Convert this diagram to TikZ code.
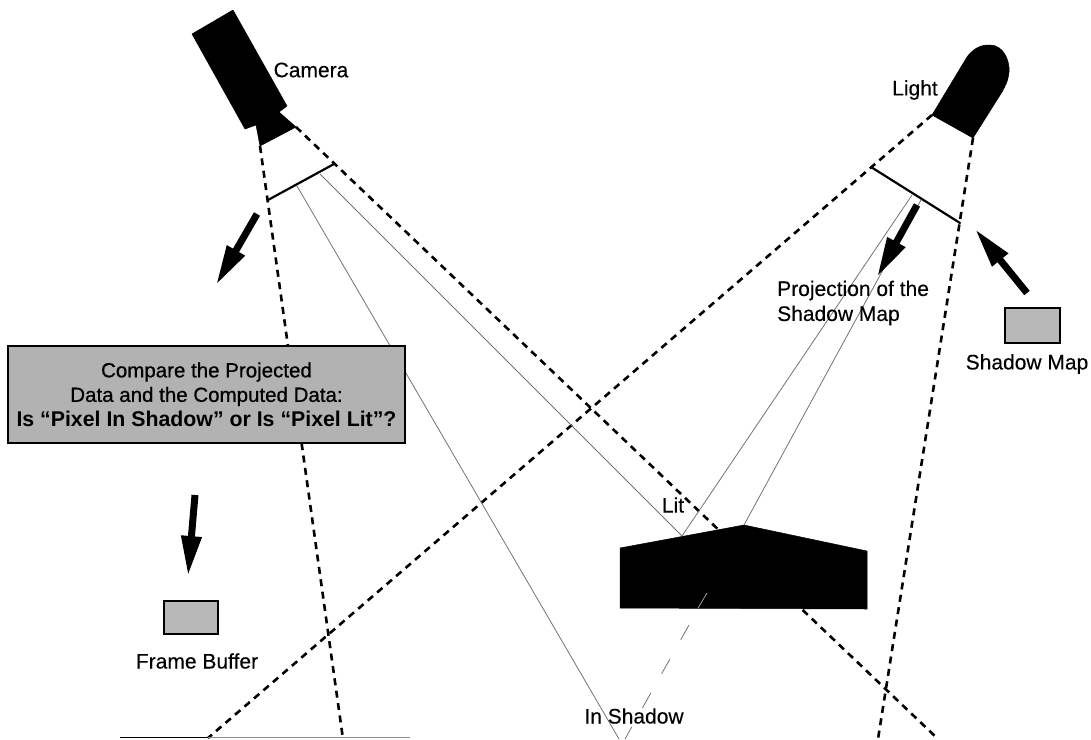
\documentclass[tikz,border=0pt]{standalone}
\usepackage{fontspec}
\setmainfont{Liberation Sans}
\newfontfamily\heavyreg[FakeBold=0.7]{Liberation Sans}
\newfontfamily\lightheavy[FakeBold=0.25]{Liberation Sans}
\usetikzlibrary{arrows.meta}
\tikzset{
  frustum/.style={draw=black,line width=2.6pt,dash pattern=on 7pt off 5.5pt},
  ray/.style={draw=black!55,line width=0.8pt},
  plane/.style={draw=black,line width=2.2pt,line cap=round},
  bigarrow/.style={draw=black,line width=7pt,-{Triangle[length=40pt,width=19pt]}},
  solid shape/.style={fill=black,draw=black,line width=0.5pt,line join=round},
  mapbox/.style={draw=black,line width=1.8pt,fill=black!28,inner sep=0pt,anchor=north west},
  label text/.style={inner sep=0pt,font=\lightheavy\fontsize{21}{25}\selectfont,text=black},
}
\begin{document}
\begin{tikzpicture}[x=1pt,y=-1pt]
\useasboundingbox (0,0) rectangle (1091,739);
% named end points
\coordinate (camL) at (260,146);
\coordinate (camR) at (296,127);
\coordinate (camLend) at (343,739);
\coordinate (camRend) at (938,739);
\coordinate (ligL) at (932,115);
\coordinate (ligR) at (973,138);
\coordinate (ligLend) at (208,738);
\coordinate (ligRend) at (878,739);
\coordinate (cp1) at (268,200);
\coordinate (cp2) at (334,164);
\coordinate (lp1) at (871,167);
\coordinate (lp2) at (960,223);
\coordinate (camray1) at (297,186);
\coordinate (camray2) at (320,174);
\coordinate (ligray1) at (912,195);
\coordinate (ligray2) at (921,200);
\coordinate (litpt) at (682,536);
\coordinate (peak) at (744,525);
\coordinate (shpt) at (619,739);
\coordinate (shdash0) at (707,593);
\coordinate (shdash1) at (698,608);
\coordinate (shdash2) at (689,625);
\coordinate (shend) at (625,739);
\coordinate (gr0) at (120,737.5);
\coordinate (gr1) at (208,737.5);
\coordinate (gr2) at (410,737.5);
% frustum lines
\draw[frustum] (camL) -- (camLend);
\draw[frustum] (camR) -- (camRend);
\draw[frustum] (ligL) -- (ligLend);
\draw[frustum] (ligR) -- (ligRend);
% rays
\draw[ray] (camray1) -- (shpt);
\draw[ray] (camray2) -- (litpt);
\draw[ray] (ligray1) -- (litpt);
\draw[ray] (ligray2) -- (peak);
\draw[ray,dash pattern=on 17pt off 22pt] (shdash2) -- (shend);
% ground
\draw[black,line width=1.8pt] (gr0) -- (gr1);
\draw[black!45,line width=1.4pt] (gr1) -- (gr2);
% planes
\draw[plane] (cp1) -- (cp2);
\draw[plane] (lp1) -- (lp2);
% solids
\fill[solid shape] (233,10) -- (192,34) -- (245,129) -- (256,125) -- (260,146) -- (296,127) -- (279,112) -- (287,106) -- cycle;
\fill[solid shape] (ligL) -- (967,57) .. controls (976,45) and (985,45) .. (990,45) .. controls (1003,45) and (1010,60) .. (1009,72) .. controls (1008,82) and (1005,86) .. (1002,92) -- (ligR) -- cycle;
\fill[solid shape] (620,548) -- (peak) -- (867,551) -- (867,609) -- (620,608) -- cycle;
\draw[draw=black!30,line width=0.7pt] (shdash0) -- (shdash1);
% compare box
\node[draw=black,line width=2pt,fill=black!30,minimum width=397pt,minimum height=97pt,inner sep=0pt,align=center,anchor=north west,font=\heavyreg\fontsize{20.5}{24.5}\selectfont] (cmp) at (7,345) {Compare the Projected\\Data and the Computed Data:\\\normalfont\fontsize{21.3}{24.5}\selectfont\textbf{Is “Pixel In Shadow” or Is “Pixel Lit”?}};
% small boxes
\node[mapbox,minimum width=55pt,minimum height=35pt] (smap) at (1004,307) {};
\node[mapbox,minimum width=54pt,minimum height=33pt] (fbuf) at (163,600) {};
% arrow ends
\coordinate (a1s) at (257,214); \coordinate (a1e) at (216,285);
\coordinate (a2s) at (917,205); \coordinate (a2e) at (877,277);
\coordinate (a3s) at (1027,293); \coordinate (a3e) at (975,229);
\coordinate (a4s) at (195,495); \coordinate (a4e) at (188,576);
\draw[bigarrow] (a1s) -- (a1e);
\draw[bigarrow] (a2s) -- (a2e);
\draw[bigarrow] (a3s) -- (a3e);
\draw[bigarrow] (a4s) -- (a4e);
% labels
\node[label text] (lcam) at (311,70) {Camera};
\node[label text] (llig) at (915,90) {Light};
\node[label text,anchor=west,align=left] (lproj) at (777,303) {Projection of the\\Shadow Map};
\node[label text] (lsm) at (1027,364) {Shadow Map};
\node[label text] (lfb) at (197,661) {Frame Buffer};
\node[label text] (llit) at (673,505) {Lit};
\node[label text] (lsh) at (634,716) {In Shadow};
\end{tikzpicture}
\end{document}
